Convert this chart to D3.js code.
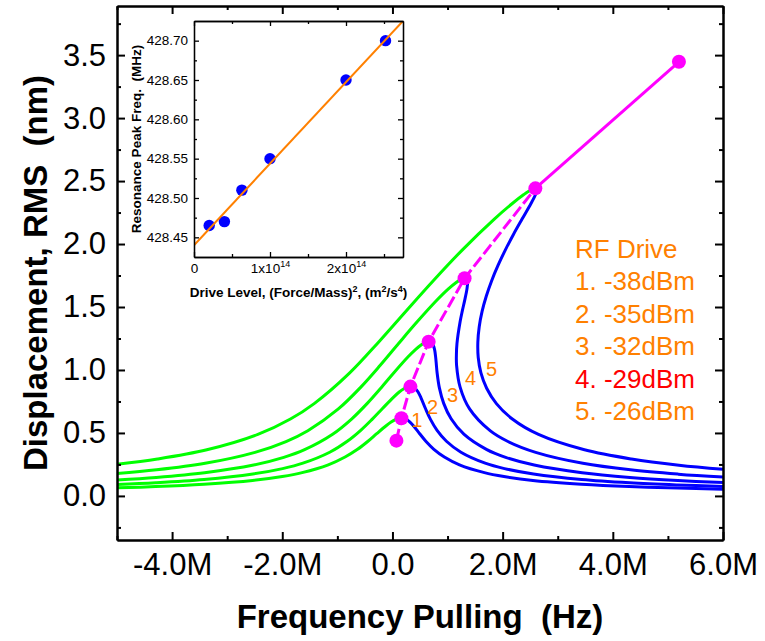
<!DOCTYPE html>
<html><head><meta charset="utf-8">
<script src="https://cdn.jsdelivr.net/npm/d3@7"></script>
<style>
body{margin:0;background:#fff}
svg{display:block}
text{font-family:"Liberation Sans",Arial,Helvetica,sans-serif;white-space:pre}
</style>
</head><body>
<svg id="chart" width="765" height="641"></svg>
<script>
// ---------- data (frequency in MHz, displacement in nm) ----------
const xTicks = [-4, -2, 0, 2, 4, 6];
const xTickLabels = ["-4.0M", "-2.0M", "0.0", "2.0M", "4.0M", "6.0M"];
const xMinorTicks = [-5, -3, -1, 1, 3, 5];
const yTicks = [0, 0.5, 1, 1.5, 2, 2.5, 3, 3.5];
const yTickLabels = ["0.0", "0.5", "1.0", "1.5", "2.0", "2.5", "3.0", "3.5"];
const yMinorTicks = [-0.25, 0.25, 0.75, 1.25, 1.75, 2.25, 2.75, 3.25, 3.75];

const green1 = [[-5,0.064],[-4.30,0.074],[-3.42,0.093],[-2.54,0.123],[-2.00,0.154],[-1.64,0.185],[-1.165,0.247],[-0.86,0.309],[-0.634,0.370],[-0.45,0.432],[-0.286,0.494],[-0.12,0.555],[-0.024,0.586],[0.051,0.605],[0.109,0.614],[0.163,0.617]];
const blue1  = [[0.163,0.617],[0.214,0.614],[0.263,0.605],[0.318,0.586],[0.384,0.555],[0.494,0.494],[0.61,0.432],[0.752,0.370],[0.942,0.309],[1.217,0.247],[1.669,0.185],[2.024,0.154],[2.55,0.123],[3.43,0.093],[4.30,0.074],[5.18,0.062],[6,0.053]];
const green2 = [[-5,0.090],[-4.297,0.104],[-3.42,0.130],[-2.534,0.174],[-1.994,0.217],[-1.625,0.260],[-1.139,0.347],[-0.82,0.434],[-0.576,0.521],[-0.37,0.608],[-0.181,0.694],[0.012,0.781],[0.123,0.825],[0.207,0.851],[0.271,0.864],[0.326,0.868]];
const blue2  = [[0.326,0.868],[0.375,0.864],[0.419,0.851],[0.465,0.825],[0.516,0.781],[0.599,0.694],[0.690,0.608],[0.810,0.521],[0.98,0.434],[1.243,0.347],[1.683,0.260],[2.034,0.217],[2.56,0.174],[3.434,0.130],[4.307,0.104],[5.177,0.087],[6,0.075]];
const green3 = [[-5,0.1265],[-4.29,0.147],[-3.41,0.184],[-2.52,0.245],[-1.973,0.306],[-1.595,0.3675],[-1.086,0.49],[-0.737,0.6125],[-0.457,0.735],[-0.208,0.8575],[0.03,0.98],[0.28,1.1025],[0.422,1.164],[0.525,1.2005],[0.598,1.219],[0.657,1.225]];
const blue3  = [[0.657,1.225],[0.702,1.219],[0.737,1.2005],[0.764,1.164],[0.784,1.1025],[0.797,1.041],[0.81,0.98],[0.852,0.8575],[0.93,0.735],[1.065,0.6125],[1.296,0.49],[1.713,0.3675],[2.055,0.306],[2.573,0.245],[3.442,0.184],[4.31,0.147],[5.18,0.1225],[6,0.106]];
const green4 = [[-5,0.178],[-4.283,0.207],[-3.40,0.259],[-2.495,0.346],[-1.932,0.432],[-1.536,0.518],[-0.982,0.691],[-0.574,0.864],[-0.222,1.037],[0.111,1.21],[0.448,1.382],[0.808,1.555],[1.01,1.642],[1.151,1.693],[1.244,1.719],[1.309,1.728]];
const blue4  = [[1.309,1.728],[1.348,1.719],[1.363,1.693],[1.352,1.642],[1.312,1.555],[1.268,1.469],[1.228,1.382],[1.171,1.21],[1.161,1.123],[1.164,1.037],[1.228,0.864],[1.40,0.691],[1.772,0.518],[2.096,0.432],[2.60,0.346],[3.457,0.259],[4.32,0.207],[5.187,0.173],[6,0.1495]];
const green5 = [[-5,0.251],[-4.265,0.293],[-3.369,0.366],[-2.443,0.488],[-1.852,0.6105],[-1.421,0.733],[-0.776,0.977],[-0.253,1.221],[0.241,1.465],[0.741,1.709],[1.27,1.954],[1.849,2.198],[2.17,2.320],[2.385,2.393],[2.516,2.430],[2.594,2.442]];
const blue5  = [[2.594,2.442],[2.620,2.430],[2.597,2.393],[2.512,2.320],[2.353,2.198],[2.196,2.076],[2.05,1.954],[1.918,1.832],[1.801,1.709],[1.704,1.587],[1.627,1.465],[1.575,1.343],[1.55,1.221],[1.557,1.099],[1.606,0.977],[1.71,0.855],[1.887,0.733],[2.176,0.6105],[2.651,0.488],[3.485,0.366],[4.339,0.293],[5.20,0.244],[6,0.2115]];

const peakFreq = [0.072, 0.163, 0.326, 0.657, 1.309, 2.594, 5.2];
const peakAmp  = [0.439, 0.617, 0.868, 1.225, 1.728, 2.442, 3.447];

const curveLabels = ["1", "2", "3", "4", "5"];
const curveLabelX = [0.44, 0.73, 1.09, 1.42, 1.80];
const curveLabelY = [0.60, 0.705, 0.80, 0.94, 1.01];

const legendLines  = ["RF Drive", "1. -38dBm", "2. -35dBm", "3. -32dBm", "4. -29dBm", "5. -26dBm"];
const legendColors = ["#ff8000", "#ff8000", "#ff8000", "#ff8000", "#ff0000", "#ff8000"];

// inset
const driveLevel = [0.2e14, 0.4e14, 0.63e14, 1.0e14, 2.0e14, 2.52e14];
const resFreq    = [428.465, 428.47, 428.51, 428.55, 428.65, 428.70];
const fitX = [0, 2.75e14];
const fitY = [428.44, 428.725];
const insetXTicks = [0, 1e14, 2e14];
const insetXTickLabels = [["0",""],["1x10","14"],["2x10","14"]];
const insetXMinor = [0.5e14, 1.5e14, 2.5e14];
const insetYTicks = [428.45, 428.50, 428.55, 428.60, 428.65, 428.70];
const insetYTickLabels = ["428.45","428.50","428.55","428.60","428.65","428.70"];
const insetYMinor = [428.475, 428.525, 428.575, 428.625, 428.675];

// ---------- drawing ----------
const svg = d3.select("#chart");
const M = {l:117, r:723, t:6, b:540};
const x = d3.scaleLinear().domain([-5, 6]).range([M.l, M.r]);
const y = d3.scaleLinear().domain([-0.35, 3.89]).range([M.b, M.t]);

const plot = svg.append("g");
plot.append("clipPath").attr("id","clipMain").append("rect")
  .attr("x",M.l).attr("y",M.t).attr("width",M.r-M.l).attr("height",M.b-M.t);

const line = d3.line().x(d=>x(d[0])).y(d=>y(d[1])).curve(d3.curveCatmullRom.alpha(0.5));
const curves = plot.append("g").attr("clip-path","url(#clipMain)");
[green1,green2,green3,green4,green5].forEach(c=>{
  curves.append("path").attr("d",line(c)).attr("fill","none").attr("stroke","#00ff00").attr("stroke-width",3);
});
[blue1,blue2,blue3,blue4,blue5].forEach(c=>{
  curves.append("path").attr("d",line(c)).attr("fill","none").attr("stroke","#0000ff").attr("stroke-width",3);
});

// backbone (magenta)
const backbone = peakFreq.map((f,i)=>[f, peakAmp[i]]);
const lin = d3.line().x(d=>x(d[0])).y(d=>y(d[1]));
curves.append("path").attr("d", lin(backbone.slice(0,6))).attr("fill","none")
  .attr("stroke","#ff00ff").attr("stroke-width",3).attr("stroke-dasharray","12,4");
curves.append("path").attr("d", lin(backbone.slice(5))).attr("fill","none")
  .attr("stroke","#ff00ff").attr("stroke-width",3);
curves.selectAll("circle.pk").data(backbone).enter().append("circle")
  .attr("cx",d=>x(d[0])).attr("cy",d=>y(d[1])).attr("r",7).attr("fill","#ff00ff");

// curve number labels
plot.selectAll("text.cl").data(curveLabels).enter().append("text")
  .attr("x",(d,i)=>x(curveLabelX[i])).attr("y",(d,i)=>y(curveLabelY[i]))
  .attr("text-anchor","middle").attr("dominant-baseline","central")
  .attr("font-size",20).attr("fill","#ff8000").text(d=>d);

// legend
plot.selectAll("text.lg").data(legendLines).enter().append("text")
  .attr("x",575).attr("y",(d,i)=>258 + i*32.4)
  .attr("font-size",26).attr("fill",(d,i)=>legendColors[i]).text(d=>d);

// main axes
function styleAxis(g){
  g.selectAll(".domain").attr("stroke","#000").attr("stroke-width",2);
  g.selectAll(".tick line").attr("stroke","#000").attr("stroke-width",2);
}
const tickFontMain = 31;
const gx = svg.append("g").attr("transform",`translate(0,${M.b})`)
  .call(d3.axisBottom(x).tickValues(xTicks).tickFormat((d,i)=>xTickLabels[i]).tickSizeInner(-8).tickSizeOuter(0).tickPadding(13));
gx.selectAll("text").attr("font-size",tickFontMain).attr("fill","#000");
styleAxis(gx);
styleAxis(svg.append("g").attr("transform",`translate(0,${M.b})`)
  .call(d3.axisBottom(x).tickValues(xMinorTicks).tickFormat("").tickSizeInner(-4).tickSizeOuter(0)));
styleAxis(svg.append("g").attr("transform",`translate(0,${M.t})`)
  .call(d3.axisTop(x).tickValues(xTicks).tickFormat("").tickSizeInner(-8).tickSizeOuter(0)));
styleAxis(svg.append("g").attr("transform",`translate(0,${M.t})`)
  .call(d3.axisTop(x).tickValues(xMinorTicks).tickFormat("").tickSizeInner(-4).tickSizeOuter(0)));

const gy = svg.append("g").attr("transform",`translate(${M.l},0)`)
  .call(d3.axisLeft(y).tickValues(yTicks).tickFormat((d,i)=>yTickLabels[i]).tickSizeInner(-8).tickSizeOuter(0).tickPadding(11));
gy.selectAll("text").attr("font-size",tickFontMain).attr("fill","#000");
styleAxis(gy);
styleAxis(svg.append("g").attr("transform",`translate(${M.l},0)`)
  .call(d3.axisLeft(y).tickValues(yMinorTicks).tickFormat("").tickSizeInner(-4).tickSizeOuter(0)));
styleAxis(svg.append("g").attr("transform",`translate(${M.r},0)`)
  .call(d3.axisRight(y).tickValues(yTicks).tickFormat("").tickSizeInner(-8).tickSizeOuter(0)));
styleAxis(svg.append("g").attr("transform",`translate(${M.r},0)`)
  .call(d3.axisRight(y).tickValues(yMinorTicks).tickFormat("").tickSizeInner(-4).tickSizeOuter(0)));
svg.selectAll("g.tick text, g text").attr("font-family",null);

// axis titles
svg.append("text").attr("x",(M.l+M.r)/2).attr("y",628).attr("text-anchor","middle")
  .attr("font-size",33).attr("font-weight","bold").text("Frequency Pulling  (Hz)");
svg.append("text").attr("transform",`translate(47,${(M.t+M.b)/2}) rotate(-90)`).attr("text-anchor","middle")
  .attr("font-size",33).attr("font-weight","bold").text("Displacement, RMS  (nm)");

// ---------- inset ----------
const IX = {l:194, r:403, t:21, b:257};
const ix = d3.scaleLinear().domain([0, 2.75e14]).range([IX.l, IX.r]);
const iy = d3.scaleLinear().domain([428.425, 428.725]).range([IX.b, IX.t]);
const inset = svg.append("g");
inset.append("rect").attr("x",IX.l).attr("y",IX.t).attr("width",IX.r-IX.l).attr("height",IX.b-IX.t).attr("fill","#fff");
inset.append("clipPath").attr("id","clipInset").append("rect")
  .attr("x",IX.l).attr("y",IX.t).attr("width",IX.r-IX.l).attr("height",IX.b-IX.t);
const ig = inset.append("g").attr("clip-path","url(#clipInset)");
ig.selectAll("circle").data(driveLevel).enter().append("circle")
  .attr("cx",d=>ix(d)).attr("cy",(d,i)=>iy(resFreq[i])).attr("r",5.7).attr("fill","#0000ff");
ig.append("line").attr("x1",ix(fitX[0])).attr("y1",iy(fitY[0])).attr("x2",ix(fitX[1])).attr("y2",iy(fitY[1]))
  .attr("stroke","#ff8000").attr("stroke-width",2);

function styleInset(g){
  g.selectAll(".domain").attr("stroke","#000").attr("stroke-width",1.3);
  g.selectAll(".tick line").attr("stroke","#000").attr("stroke-width",1.3);
}
const ixa = inset.append("g").attr("transform",`translate(0,${IX.b})`)
  .call(d3.axisBottom(ix).tickValues(insetXTicks).tickFormat("").tickSizeInner(-5).tickSizeOuter(0).tickPadding(6));
styleInset(ixa);
ixa.selectAll(".tick").append("text").attr("y",16).attr("text-anchor","middle")
  .attr("font-size",13.5).attr("fill","#000")
  .each(function(d,i){
    const t = d3.select(this);
    t.append("tspan").text(insetXTickLabels[i][0]);
    if (insetXTickLabels[i][1]) t.append("tspan").attr("dy",-6).attr("font-size",9).text(insetXTickLabels[i][1]);
  });
styleInset(inset.append("g").attr("transform",`translate(0,${IX.b})`)
  .call(d3.axisBottom(ix).tickValues(insetXMinor).tickFormat("").tickSizeInner(-3).tickSizeOuter(0)));
styleInset(inset.append("g").attr("transform",`translate(0,${IX.t})`)
  .call(d3.axisTop(ix).tickValues(insetXTicks).tickFormat("").tickSizeInner(-5).tickSizeOuter(0)));
styleInset(inset.append("g").attr("transform",`translate(0,${IX.t})`)
  .call(d3.axisTop(ix).tickValues(insetXMinor).tickFormat("").tickSizeInner(-3).tickSizeOuter(0)));
const iya = inset.append("g").attr("transform",`translate(${IX.l},0)`)
  .call(d3.axisLeft(iy).tickValues(insetYTicks).tickFormat((d,i)=>insetYTickLabels[i]).tickSizeInner(-5).tickSizeOuter(0).tickPadding(6));
iya.selectAll("text").attr("font-size",13.5).attr("fill","#000").attr("font-family",null);
styleInset(iya);
styleInset(inset.append("g").attr("transform",`translate(${IX.l},0)`)
  .call(d3.axisLeft(iy).tickValues(insetYMinor).tickFormat("").tickSizeInner(-3).tickSizeOuter(0)));
styleInset(inset.append("g").attr("transform",`translate(${IX.r},0)`)
  .call(d3.axisRight(iy).tickValues(insetYTicks).tickFormat("").tickSizeInner(-5).tickSizeOuter(0)));
styleInset(inset.append("g").attr("transform",`translate(${IX.r},0)`)
  .call(d3.axisRight(iy).tickValues(insetYMinor).tickFormat("").tickSizeInner(-3).tickSizeOuter(0)));

// inset titles
const ixt = inset.append("text").attr("x",(IX.l+IX.r)/2).attr("y",297).attr("text-anchor","middle")
  .attr("font-size",13.5).attr("font-weight","bold");
ixt.append("tspan").text("Drive Level, (Force/Mass)");
ixt.append("tspan").attr("dy",-5).attr("font-size",9).text("2");
ixt.append("tspan").attr("dy",5).text(", (m");
ixt.append("tspan").attr("dy",-5).attr("font-size",9).text("2");
ixt.append("tspan").attr("dy",5).text("/s");
ixt.append("tspan").attr("dy",-5).attr("font-size",9).text("4");
ixt.append("tspan").attr("dy",5).text(")");
inset.append("text").attr("transform",`translate(141,${(IX.t+IX.b)/2}) rotate(-90)`).attr("text-anchor","middle")
  .attr("font-size",13.5).attr("font-weight","bold").text("Resonance Peak Freq.  (MHz)");
</script>
</body></html>
